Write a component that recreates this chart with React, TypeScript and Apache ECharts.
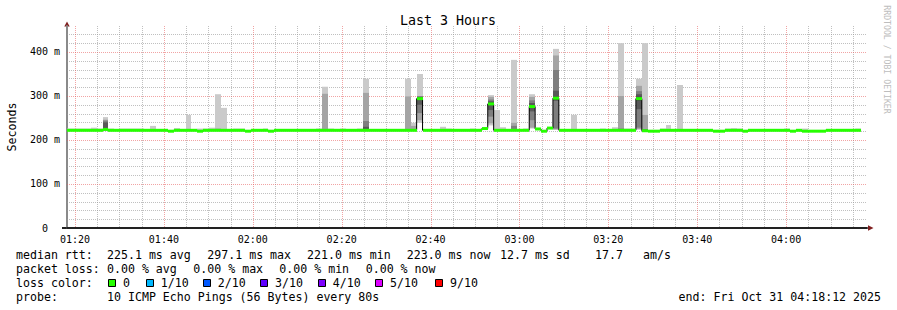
import React, { useEffect, useRef } from "react";
import * as echarts from "echarts";

// ---- time frame (minutes since midnight) ----
const START_MIN = 78.2; // 01:18:12
const END_MIN = 258.2; // 04:18:12
const STEP_MIN = 80 / 60; // one probe round every 80 s
const Y_MAX = 459;

// ---- tick / grid values ----
const xTickMinutes = [80, 100, 120, 140, 160, 180, 200, 220, 240];
const xMinorGrid = [85, 90, 95, 105, 110, 115, 125, 130, 135, 145, 150, 155, 165, 170, 175, 185, 190, 195, 205, 210, 215, 225, 230, 235, 245, 250, 255];
const yTickValues = [0, 100, 200, 300, 400];
const yMinorGrid = [20, 40, 60, 80, 120, 140, 160, 180, 220, 240, 260, 280, 320, 340, 360, 380, 420, 440];

// ---- median rtt per 80 s step (ms) ----
const median = [
  222, 222, 222, 222, 222, 222, 224, 222, 222, 222,
  222, 222, 222, 222, 222, 222, 222, 220, 222, 222,
  222, 222, 220, 222, 222, 222, 222, 222, 222, 222,
  220, 222, 222, 222, 220, 222, 222, 222, 222, 222,
  222, 222, 222, 222, 222, 222, 222, 222, 222, 222,
  222, 222, 222, 222, 222, 222, 222, 222, 222, 294,
  222, 222, 222, 222, 222, 222, 222, 222, 222, 222,
  226, 282, 222, 222, 222, 222, 222, 222, 276, 225,
  220, 227, 295, 222, 222, 222, 222, 222, 222, 222,
  222, 222, 222, 222, 222, 222, 294, 221, 220, 220,
  222, 222, 222, 222, 222, 222, 222, 222, 222, 220,
  220, 222, 222, 222, 220, 222, 222, 222, 222, 222,
  222, 222, 220, 222, 220, 220, 220, 220, 222, 222,
  222, 222, 222, 222,
];

// ---- steps where only the slowest ping stands out (max rtt, ms) ----
const bumpSteps = [0, 1, 2, 3, 4, 5, 7, 9, 10, 11, 12, 14, 18, 20, 22, 23, 24, 26, 28, 29, 33, 42, 44, 46, 49, 63, 64, 68, 72, 73, 77, 81, 85, 90, 92, 94, 95, 100, 101, 103, 111, 112, 113, 121, 124, 133];
const bumpTops = [226, 226, 226, 226, 228, 226, 226, 226, 226, 226, 226, 232, 227, 257, 226, 226, 228, 273, 226, 226, 226, 226, 226, 226, 226, 230, 226, 226, 268, 229, 226, 229, 257, 226, 229, 226, 226, 226, 234, 325, 226, 227, 226, 226, 226, 226];

// ---- steps with full smoke: the 10 sorted pings (ms) ----
const spikeSteps = [6, 25, 43, 50, 57, 58, 59, 71, 75, 78, 82, 93, 96, 97];
const spikePings = [
  [221, 222, 222, 223, 223, 224, 240, 244, 246, 252],
  [221, 222, 222, 222, 222, 223, 223, 224, 226, 304],
  [221, 222, 222, 222, 223, 223, 224, 225, 305, 321],
  [221, 222, 222, 223, 223, 224, 230, 243, 307, 339],
  [221, 222, 222, 222, 223, 223, 224, 225, 299, 339],
  [221, 222, 222, 222, 222, 223, 223, 224, 232, 239],
  [239, 245, 261, 280, 291, 297, 298, 299, 300, 350],
  [233, 238, 253, 268, 280, 285, 288, 292, 298, 302],
  [221, 222, 222, 222, 223, 223, 224, 232, 239, 382],
  [226, 228, 245, 265, 273, 279, 284, 290, 298, 304],
  [223, 224, 226, 289, 292, 298, 312, 359, 392, 407],
  [221, 222, 222, 222, 223, 223, 224, 226, 300, 420],
  [223, 225, 228, 270, 290, 298, 304, 311, 323, 339],
  [221, 221, 222, 222, 222, 223, 223, 225, 257, 420],
];

// ---- legend ----
const lossLabels = ["0", "1/10", "2/10", "3/10", "4/10", "5/10", "9/10"];
const lossColors = ["#26ff00", "#00b8ff", "#0059ff", "#5e00ff", "#7e00ff", "#dd00ff", "#ff0000"];
const lossSquareX = [108, 145.7, 202.7, 260, 317.7, 375, 435];

const SHADES = ["#cacaca", "#a4a4a4", "#7e7e7e", "#585858", "#323232"];
const MONO = "'DejaVu Sans Mono', 'Liberation Mono', monospace";
const GRID_MINOR = "rgba(150,150,150,0.6)";
const GRID_MAJOR = "rgba(230,90,90,0.55)";

const fmtTime = (v: number) => {
  const h = Math.floor(v / 60);
  const m = Math.round(v - h * 60);
  return String(h).padStart(2, "0") + ":" + String(m).padStart(2, "0");
};

export default function App() {
  const ref = useRef<HTMLDivElement>(null);

  useEffect(() => {
    if (!ref.current) return;
    const chart = echarts.init(ref.current, null, { renderer: "svg" });

    const stepData = median.map((m, i) => [START_MIN + i * STEP_MIN, m, i]);
    const lineData: number[][] = median.map((m, i) => [START_MIN + i * STEP_MIN, m]);
    lineData.push([START_MIN + median.length * STEP_MIN, median[median.length - 1]]);

    const hGridRender = (color: string) => (params: any, api: any) => {
      const cs = params.coordSys;
      const y = Math.round(api.coord([START_MIN, api.value(1)])[1]) + 0.5;
      return {
        type: "line",
        shape: { x1: cs.x, y1: y, x2: cs.x + cs.width, y2: y },
        style: { stroke: color, lineWidth: 1, lineDash: [1, 1] },
      };
    };
    const vGridRender = (color: string) => (params: any, api: any) => {
      const cs = params.coordSys;
      const x = Math.round(api.coord([api.value(0), 0])[0]) + 0.5;
      return {
        type: "line",
        shape: { x1: x, y1: cs.y, x2: x, y2: cs.y + cs.height },
        style: { stroke: color, lineWidth: 1, lineDash: [1, 1] },
      };
    };

    const smokeRender = (params: any, api: any) => {
      const t0 = api.value(0);
      const m = api.value(1);
      const idx = api.value(2);
      const x0 = Math.round(api.coord([t0, 0])[0]);
      const x1 = Math.round(api.coord([t0 + STEP_MIN, 0])[0]);
      const children: any[] = [];
      const b = bumpSteps.indexOf(idx);
      if (b >= 0) {
        const yt = api.coord([t0, bumpTops[b]])[1];
        const yb = api.coord([t0, m])[1];
        children.push({ type: "rect", shape: { x: x0, y: yt, width: x1 - x0, height: Math.max(yb - yt, 0) }, style: { fill: SHADES[0] } });
      }
      const s = spikeSteps.indexOf(idx);
      if (s >= 0) {
        const p = spikePings[s];
        for (let k = 0; k < 5; k++) {
          const yt = api.coord([t0, p[9 - k]])[1];
          const yb = api.coord([t0, p[k]])[1];
          children.push({ type: "rect", shape: { x: x0, y: yt, width: x1 - x0, height: Math.max(yb - yt, 0) }, style: { fill: SHADES[k] } });
        }
      }
      return { type: "group", children };
    };

    const medianRender = (params: any, api: any) => {
      const t0 = api.value(0);
      const m = api.value(1);
      const x0 = Math.round(api.coord([t0, 0])[0]);
      const x1 = Math.round(api.coord([t0 + STEP_MIN, 0])[0]);
      const yc = api.coord([t0, m])[1];
      return {
        type: "rect",
        shape: { x: x0, y: yc - 1.5, width: x1 - x0, height: 3 },
        style: { fill: lossColors[0] },
      };
    };

    const texts: any[] = [];
    const addText = (text: string, x: number, y: number, extra: any = {}) => {
      texts.push({
        type: "text",
        x,
        y,
        silent: true,
        style: { text, font: `11.6px ${MONO}`, fill: "#000", textAlign: "left", textVerticalAlign: "middle", ...extra.style },
        ...(extra.rotation !== undefined ? { rotation: extra.rotation } : {}),
      });
    };

    addText("Last 3 Hours", 448, 20, { style: { font: `13.3px ${MONO}`, textAlign: "center" } });
    addText("Seconds", 11.5, 127, { rotation: Math.PI / 2, style: { textAlign: "center" } });
    addText("RRDTOOL / TOBI OETIKER", 887, 59.5, { rotation: -Math.PI / 2, style: { textAlign: "center", font: `8.2px ${MONO}`, fill: "#bdbdbd" } });

    addText("median rtt:", 16, 254.5);
    addText("225.1 ms avg", 107, 254.5);
    addText("297.1 ms max", 207.3, 254.5);
    addText("221.0 ms min", 307, 254.5);
    addText("223.0 ms now", 406.7, 254.5);
    addText("12.7 ms sd", 500, 254.5);
    addText("17.7", 595, 254.5);
    addText("am/s", 643, 254.5);

    addText("packet loss:", 16, 268.5);
    addText("0.00 % avg", 107, 268.5);
    addText("0.00 % max", 193.3, 268.5);
    addText("0.00 % min", 279.3, 268.5);
    addText("0.00 % now", 365.7, 268.5);

    addText("loss color:", 16, 282.5);
    lossLabels.forEach((lab, i) => {
      texts.push({
        type: "rect",
        silent: true,
        shape: { x: Math.round(lossSquareX[i]) + 0.5, y: 279.5, width: 7, height: 7 },
        style: { fill: lossColors[i], stroke: "#000", lineWidth: 1 },
      });
      addText(lab, lossSquareX[i] + 15, 282.5);
    });

    addText("probe:", 16, 296.5);
    addText("10 ICMP Echo Pings (56 Bytes) every 80s", 107, 296.5);
    addText("end: Fri Oct 31 04:18:12 2025", 881, 296.5, { style: { textAlign: "right" } });

    // axis arrows and x-axis left stub
    texts.push({ type: "polygon", silent: true, shape: { points: [[67, 21.5], [64.3, 26.5], [69.7, 26.5]] }, style: { fill: "#801f1f" } });
    texts.push({ type: "polygon", silent: true, shape: { points: [[873.5, 228], [868, 225.3], [868, 230.7]] }, style: { fill: "#801f1f" } });
    texts.push({ type: "line", silent: true, shape: { x1: 62, y1: 228, x2: 67, y2: 228 }, style: { stroke: "#222", lineWidth: 2 } });

    chart.setOption({
      animation: false,
      backgroundColor: "#ffffff",
      grid: { left: 67, right: 30, top: 26, bottom: 82, containLabel: false, outerBoundsMode: "none" },
      xAxis: {
        type: "value",
        min: START_MIN,
        max: END_MIN,
        splitLine: { show: false },
        axisTick: { show: false },
        axisLine: { show: true, lineStyle: { color: "#222", width: 2 } },
        axisLabel: {
          customValues: xTickMinutes,
          formatter: (v: number) => fmtTime(v),
          fontFamily: MONO,
          fontSize: 10,
          color: "#000",
          margin: 6,
        },
      },
      yAxis: {
        type: "value",
        min: 0,
        max: Y_MAX,
        splitLine: { show: false },
        axisTick: { show: false },
        axisLine: { show: true, lineStyle: { color: "#8a8a8a", width: 2 } },
        axisLabel: {
          customValues: yTickValues,
          formatter: (v: number) => (v === 0 ? "0\u00a0\u00a0" : v + " m"),
          fontFamily: MONO,
          fontSize: 10,
          color: "#000",
          margin: 7,
        },
      },
      series: [
        { type: "custom", z: 1, silent: true, data: yMinorGrid.map((v) => [START_MIN, v]), renderItem: hGridRender(GRID_MINOR) },
        { type: "custom", z: 1, silent: true, data: xMinorGrid.map((v) => [v, 0]), renderItem: vGridRender(GRID_MINOR) },
        { type: "custom", z: 1, silent: true, data: yTickValues.filter((v) => v > 0).map((v) => [START_MIN, v]), renderItem: hGridRender(GRID_MAJOR) },
        { type: "custom", z: 1, silent: true, data: xTickMinutes.map((v) => [v, 0]), renderItem: vGridRender(GRID_MAJOR) },
        { type: "custom", z: 2, silent: true, data: stepData, renderItem: smokeRender },
        {
          type: "line",
          z: 3,
          silent: true,
          step: "end",
          data: lineData,
          symbol: "none",
          showSymbol: false,
          lineStyle: { color: "#000", width: 1 },
        },
        { type: "custom", z: 4, silent: true, data: stepData, renderItem: medianRender },
      ],
      graphic: texts,
    });

    return () => chart.dispose();
  }, []);

  return (
    <div
      ref={ref}
      style={{ position: "absolute", left: 0, top: 0, width: 897, height: 310, background: "#fff" }}
    />
  );
}
